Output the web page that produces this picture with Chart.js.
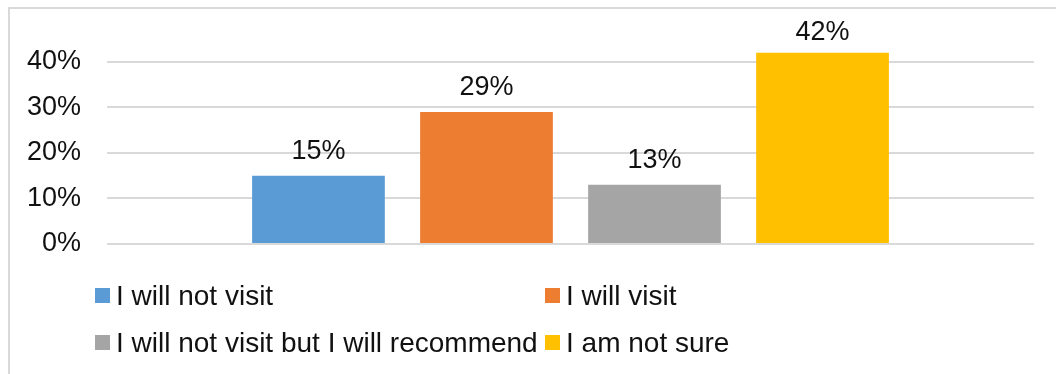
<!DOCTYPE html>
<html>
<head>
<meta charset="utf-8">
<script src="https://cdn.jsdelivr.net/npm/chart.js@4/dist/chart.umd.min.js"></script>
<style>
  html, body { margin: 0; padding: 0; background: #fff; }
  #wrap { position: relative; width: 1056px; height: 374px; overflow: hidden; }
  #frame {
    position: absolute; left: 8px; top: 7px; right: -10px; bottom: -10px;
    border-left: 2px solid #d9d9d9; border-top: 2px solid #d9d9d9;
  }
  #chart { position: absolute; left: 0; top: 0; }
  #legend {
    position: absolute; left: 95px; top: 272px;
    display: grid; grid-template-columns: 450px 420px; grid-auto-rows: 47px;
    font-family: "Liberation Sans", Arial, sans-serif; font-size: 28px; color: #111;
  }
  .item { display: flex; align-items: center; white-space: nowrap; }
  .swatch { width: 15px; height: 15px; margin-right: 6px; flex: none; }
</style>
</head>
<body>
<div id="wrap">
  <div id="frame"></div>
  <canvas id="chart" width="1056" height="374"></canvas>
  <div id="legend"></div>
</div>
<script>
const seriesNames = ['I will not visit', 'I will visit', 'I will not visit but I will recommend', 'I am not sure'];
const seriesValues = [0.15, 0.29, 0.13, 0.42];
const seriesColors = ['#5B9BD5', '#ED7D31', '#A5A5A5', '#FFC000'];
const tickValues = [0, 0.1, 0.2, 0.3, 0.4];
const axisMax = 0.45;

const pct = v => Math.round(v * 100) + '%';
const FONT = '"Liberation Sans", Arial, sans-serif';

// value labels above each bar, held below the top of the canvas
const barLabels = {
    id: 'barLabels',
    afterDatasetsDraw(chart) {
        const ctx = chart.ctx;
        ctx.save();
        ctx.font = '27px ' + FONT;
        ctx.fillStyle = '#111';
        ctx.textAlign = 'center';
        ctx.textBaseline = 'alphabetic';
        chart.data.datasets.forEach((ds, i) => {
            const bar = chart.getDatasetMeta(i).data[0];
            const y = Math.max(bar.y - 17, chart.chartArea.top + 1);
            ctx.fillText(pct(ds.data[0]), bar.x, y);
        });
        ctx.restore();
    }
};

const chart = new Chart(document.getElementById('chart'), {
    type: 'bar',
    data: {
        labels: [''],
        datasets: seriesNames.map((name, i) => ({
            label: name,
            data: [seriesValues[i]],
            backgroundColor: seriesColors[i],
            borderWidth: 0,
            categoryPercentage: 0.725,
            barPercentage: 0.79
        }))
    },
    options: {
        responsive: false,
        animation: false,
        layout: { padding: { left: 0, right: 22, top: 39, bottom: 130 } },
        plugins: {
            legend: { display: false },
            tooltip: { enabled: false }
        },
        scales: {
            x: { display: false },
            y: {
                min: 0,
                max: axisMax,
                afterBuildTicks(scale) {
                    scale.ticks = tickValues.map(v => ({ value: v }));
                },
                afterFit(scale) {
                    // fixed axis width; the tick padding should not push the plot down
                    scale.width = 107;
                    scale.paddingTop = 0;
                    scale.paddingBottom = 0;
                },
                border: { display: false },
                grid: { color: '#d9d9d9', lineWidth: 2, drawTicks: false },
                ticks: {
                    padding: 26,
                    color: '#111',
                    font: { family: FONT, size: 27 },
                    callback: v => pct(v)
                }
            }
        }
    },
    plugins: [barLabels]
});

// legend in two columns, built from the datasets
const legendEl = document.getElementById('legend');
chart.data.datasets.forEach(ds => {
    const item = document.createElement('div');
    item.className = 'item';
    const sw = document.createElement('span');
    sw.className = 'swatch';
    sw.style.background = ds.backgroundColor;
    const txt = document.createElement('span');
    txt.textContent = ds.label;
    item.appendChild(sw);
    item.appendChild(txt);
    legendEl.appendChild(item);
});
</script>
</body>
</html>
